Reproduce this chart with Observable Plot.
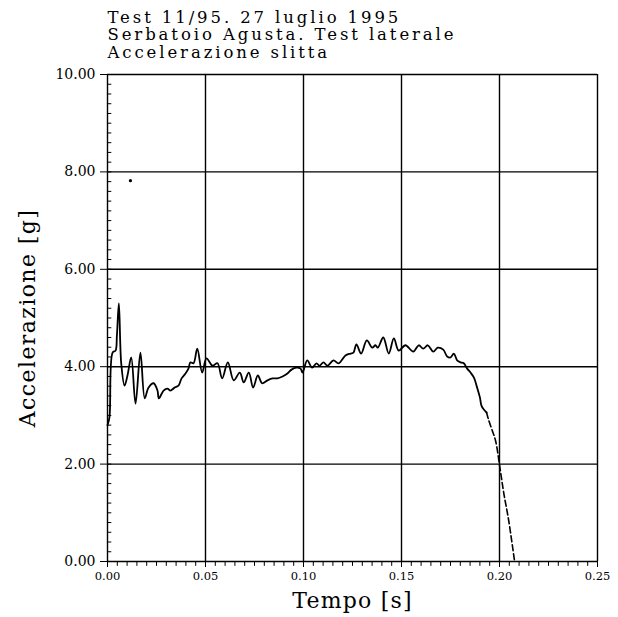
<!DOCTYPE html>
<html><head><meta charset="utf-8">
<script src="https://cdn.jsdelivr.net/npm/d3@7"></script>
<script src="https://cdn.jsdelivr.net/npm/@observablehq/plot@0.6"></script>
<style>body{margin:0;background:#fff} svg{display:block;background:#fff}</style>
</head><body><div id="chart"></div>
<script>
const titleLines = ["Test 11/95. 27 luglio 1995", "Serbatoio Agusta. Test laterale", "Accelerazione slitta"];
const xLabel = "Tempo [s]";
const yLabel = "Accelerazione [g]";
const xTicks = [0, 0.05, 0.10, 0.15, 0.20, 0.25];
const yTicks = [0, 2, 4, 6, 8, 10];

const tempo = [0.0000,0.0010,0.0026,0.0041,0.0048,0.0058,0.0070,0.0087,0.0102,0.0121,
  0.0143,0.0168,0.0190,0.0209,0.0235,0.0255,0.0262,0.0286,0.0306,0.0321,
  0.0342,0.0362,0.0378,0.0398,0.0413,0.0423,0.0439,0.0458,0.0483,0.0505,
  0.0536,0.0561,0.0585,0.0614,0.0644,0.0675,0.0695,0.0721,0.0743,0.0767,
  0.0789,0.0816,0.0842,0.0867,0.0893,0.0918,0.0939,0.0964,0.0985,0.0995,
  0.1019,0.1044,0.1066,0.1082,0.1102,0.1122,0.1153,0.1179,0.1214,0.1240,
  0.1255,0.1270,0.1294,0.1323,0.1351,0.1367,0.1379,0.1407,0.1435,0.1461,
  0.1486,0.1520,0.1560,0.1588,0.1611,0.1634,0.1662,0.1685,0.1713,0.1733,
  0.1750,0.1767,0.1784,0.1801,0.1818,0.1835,0.1852,0.1869,0.1886,0.1900,
  0.1908,0.1920,0.1934,0.1945,0.1963,0.1980,0.2002,0.2022,0.2047,0.2077];
const accel = [2.80,2.96,4.29,4.33,4.64,5.30,4.07,3.61,3.82,4.19,
  3.24,4.29,3.35,3.57,3.66,3.51,3.35,3.51,3.55,3.51,
  3.57,3.61,3.76,3.86,3.96,4.09,4.07,4.37,3.88,4.17,
  4.02,4.07,3.76,4.09,3.72,3.88,3.68,3.88,3.57,3.82,
  3.66,3.72,3.76,3.76,3.80,3.86,3.94,3.98,3.96,3.88,
  4.13,3.98,4.07,4.02,4.09,4.02,4.13,4.07,4.23,4.27,
  4.29,4.46,4.27,4.54,4.39,4.44,4.39,4.60,4.27,4.58,
  4.33,4.44,4.31,4.44,4.37,4.44,4.31,4.39,4.35,4.21,
  4.19,4.27,4.13,4.09,4.07,3.96,3.88,3.78,3.57,3.37,
  3.20,3.12,3.06,2.90,2.69,2.48,1.93,1.40,0.84,0.00];
const dashFrom = 0.1934; // trace drawn dashed from this time on
const strayT = [0.0117];
const strayA = [7.82];

const minorY = d3.range(0, 10.001, 0.2).map(v => +v.toFixed(1));
const minorX = d3.range(0, 0.2501, 0.005).map(v => +v.toFixed(3));

const rows = tempo.map((t, i) => ({t, a: accel[i]}));
const solid = rows.filter(d => d.t <= dashFrom);
const dashed = rows.filter(d => d.t >= dashFrom);
const stray = strayT.map((t, i) => ({t, a: strayA[i]}));

const serif = "DejaVu Serif";

const chart = Plot.plot({
  width: 618, height: 617,
  marginLeft: 107, marginRight: 21, marginTop: 74, marginBottom: 56,
  style: {fontFamily: serif, color: "#000", background: "#fff"},
  x: {domain: [0, 0.25], axis: null},
  y: {domain: [0, 10], axis: null},
  marks: [
    Plot.ruleY(yTicks, {stroke: "#000", strokeWidth: 1.4}),
    Plot.ruleX(xTicks, {stroke: "#000", strokeWidth: 1.4}),
    Plot.ruleY(minorY, {x1: 0, x2: 0.0022, stroke: "#000", strokeWidth: 1}),
    Plot.ruleX(minorX, {y1: 0, y2: -0.1, stroke: "#000", strokeWidth: 1}),
    Plot.axisY({ticks: yTicks, tickSize: 7, tickPadding: 5, tickFormat: d => d.toFixed(2), fontSize: 14, label: null, stroke: "#000"}),
    Plot.axisX({ticks: xTicks, tickSize: 6, tickPadding: 4, tickFormat: d => d.toFixed(2), fontSize: 11.5, label: null, stroke: "#000"}),
    Plot.line(solid, {x: "t", y: "a", curve: "catmull-rom", stroke: "#000", strokeWidth: 1.8}),
    Plot.line(dashed, {x: "t", y: "a", curve: "catmull-rom", stroke: "#000", strokeWidth: 1.6, strokeDasharray: "6,3"}),
    Plot.dot(stray, {x: "t", y: "a", r: 1.6, fill: "#000", stroke: null}),
    Plot.text([titleLines[0]], {frameAnchor: "top-left", textAnchor: "start", lineAnchor: "middle", dy: -57, fontSize: 16.5, fill: "#000"}),
    Plot.text([titleLines[1]], {frameAnchor: "top-left", textAnchor: "start", lineAnchor: "middle", dy: -39.5, fontSize: 16.5, fill: "#000"}),
    Plot.text([titleLines[2]], {frameAnchor: "top-left", textAnchor: "start", lineAnchor: "middle", dy: -22, fontSize: 16.5, fill: "#000"}),
    Plot.text([xLabel], {frameAnchor: "bottom", textAnchor: "middle", lineAnchor: "middle", dy: 39, fontSize: 22, fill: "#000"}),
    Plot.text([yLabel], {frameAnchor: "left", textAnchor: "middle", rotate: -90, lineAnchor: "middle", dx: -80, fontSize: 22, fill: "#000"})
  ]
});
// widen the typewriter-like lettering of the title and axis labels
d3.select(chart).selectAll("text").filter(function() { return titleLines.includes(this.textContent); })
  .attr("letter-spacing", "2.9px");
d3.select(chart).selectAll("text").filter(function() { return this.textContent === yLabel; })
  .attr("letter-spacing", "1.4px");
d3.select(chart).selectAll("text").filter(function() { return this.textContent === xLabel; })
  .attr("letter-spacing", "1.2px");
document.getElementById("chart").appendChild(chart);
</script>
</body></html>
